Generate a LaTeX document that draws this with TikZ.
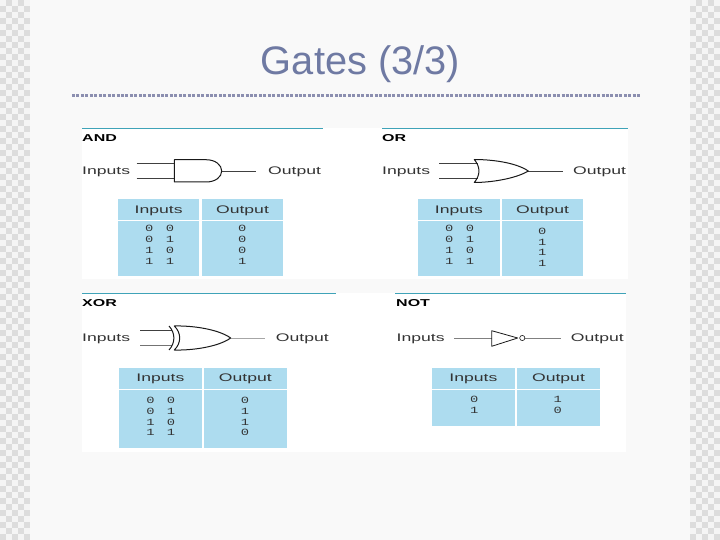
\documentclass[tikz,border=0pt]{standalone}
\usepackage{fontspec}
\setmainfont{Liberation Sans}
\newfontfamily\widefont[FakeStretch=1.6]{Liberation Sans}
\newfontfamily\digitfont[FakeStretch=1.45]{Liberation Mono}
\definecolor{pagebg}{HTML}{F9F9F9}
\definecolor{chkgray}{HTML}{DDDDDD}
\definecolor{chklight}{HTML}{F5F5F5}
\definecolor{titlecol}{HTML}{6F7AA3}
\definecolor{dotcol}{HTML}{8C8FB0}
\definecolor{tealcol}{HTML}{3FA3B8}
\definecolor{cellblue}{HTML}{ADDCEF}
\definecolor{textcol}{HTML}{333333}
\tikzset{
  x=1pt,y=-1pt,
  lbl/.style={inner sep=0pt,yshift=-1pt,font=\widefont\fontsize{11}{13}\selectfont,text=textcol},
  head/.style={inner sep=0pt,anchor=west,font=\widefont\fontsize{10}{12}\selectfont\bfseries,text=black},
  digits/.style={inner sep=0pt,align=center,text=textcol,font=\digitfont\fontsize{9.5}{10.85}\selectfont},
  wire/.style={draw=black!75,line width=0.8pt},
  gate/.style={draw=black!90,line width=1pt,line join=round},
  rule/.style={draw=tealcol,line width=1.2pt},
  cell/.style={fill=cellblue,draw=none},
}
\newcommand{\dgap}{\hspace{12.4pt}}
\newcommand{\tbl}[9]{% x0 x1 x2 x3 y0 y1 y2 y3 name
  \fill[cell] (#1,#5) rectangle (#2,#6);
  \fill[cell] (#3,#5) rectangle (#4,#6);
  \fill[cell] (#1,#7) rectangle (#2,#8);
  \fill[cell] (#3,#7) rectangle (#4,#8);
  \node[lbl] (#9i) at ({(#1+#2)/2},{(#5+#6)/2}) {Inputs};
  \node[lbl] (#9o) at ({(#3+#4)/2},{(#5+#6)/2}) {Output};
}
\begin{document}
\begin{tikzpicture}
\useasboundingbox (0,0) rectangle (720,540);
\fill[pagebg] (0,0) rectangle (720,540);
% checker strips
\fill[chklight] (0,0) rectangle (30,540);
\fill[chklight] (690,0) rectangle (720,540);
\foreach \r in {0,...,89}{
  \foreach \c in {0,...,4}{
    \pgfmathtruncatemacro{\odd}{mod(\r+\c,2)}
    \ifnum\odd=1
      \fill[chkgray] (6*\c,6*\r) rectangle +(6,6);
      \fill[chkgray] (690+6*\c,6*\r) rectangle +(6,6);
    \fi
  }
}
% title
\node[inner sep=0pt,text=titlecol,font=\fontsize{39.8}{44}\selectfont] (title) at (360.5,64.5) {Gates (3/3)};
\coordinate (dl) at (72,95.5);
\coordinate (dr) at (640,95.5);
\draw[dotcol,line width=3pt,dash pattern=on 3pt off 1.45pt] (dl) -- (dr);
% white panels
\fill[white] (82,128) rectangle (628,278.5);
\fill[white] (82,293) rectangle (626,451.5);
% teal rules
\coordinate (r1a) at (82,128.6); \coordinate (r1b) at (323,128.6);
\coordinate (r2a) at (382,128.6); \coordinate (r2b) at (628,128.6);
\coordinate (r3a) at (82,293.6); \coordinate (r3b) at (336,293.6);
\coordinate (r4a) at (395,293.6); \coordinate (r4b) at (626,293.6);
\draw[rule] (r1a) -- (r1b);
\draw[rule] (r2a) -- (r2b);
\draw[rule] (r3a) -- (r3b);
\draw[rule] (r4a) -- (r4b);
% headings
\node[head] (andh) at (82,138) {AND};
\node[head] (orh) at (382,138) {OR};
\node[head] (xorh) at (82,303) {XOR};
\node[head] (noth) at (396,303) {NOT};

% AND gate
\node[lbl,anchor=west] (andin) at (82,171) {Inputs};
\node[lbl,anchor=west] (andout) at (268,171) {Output};
\coordinate (a1) at (136.7,163); \coordinate (a1e) at (174.3,163);
\coordinate (a2) at (136.7,178.3); \coordinate (a2e) at (174.3,178.3);
\coordinate (aT) at (221.7,171); \coordinate (aO) at (256,171);
\draw[wire] (a1) -- (a1e);
\draw[wire] (a2) -- (a2e);
\draw[wire] (aT) -- (aO);
\draw[gate] (174.3,159.7) -- (206,159.7) .. controls (215.5,159.7) and (221.7,165) .. (aT) .. controls (221.7,177) and (215.5,182) .. (206,182) -- (174.3,182) -- cycle;
\tbl{118}{199.3}{201.7}{283.3}{199}{220}{221}{275.7}{and}
\node[digits] (andd1) at (159.7,245) {0\dgap 0\\0\dgap 1\\1\dgap 0\\1\dgap 1};
\node[digits] (andd2) at (242.3,245) {0\\0\\0\\1};

% OR gate
\node[lbl,anchor=west] (orin) at (382,171) {Inputs};
\node[lbl,anchor=west] (orout) at (573,171) {Output};
\coordinate (o1) at (439,163); \coordinate (o1e) at (477.5,163);
\coordinate (o2) at (439,178.3); \coordinate (o2e) at (477.5,178.3);
\coordinate (oT) at (528.3,171); \coordinate (oO) at (562.7,171);
\draw[wire] (o1) -- (o1e);
\draw[wire] (o2) -- (o2e);
\draw[wire] (oT) -- (oO);
\draw[gate] (474.3,159.5) .. controls (490,159.5) and (515,162) .. (oT) .. controls (515,179) and (490,182.5) .. (474.3,182.5) .. controls (480.5,175) and (480.5,167) .. cycle;
\tbl{418}{499.7}{502}{583.3}{199}{220}{221}{275.7}{or}
\node[digits] (ord1) at (459.7,245) {0\dgap 0\\0\dgap 1\\1\dgap 0\\1\dgap 1};
\node[digits] (ord2) at (542.3,247.3) {0\\1\\1\\1};

% XOR gate
\node[lbl,anchor=west] (xorin) at (82,338) {Inputs};
\node[lbl,anchor=west] (xorout) at (275.7,338) {Output};
\coordinate (x1) at (140,330); \coordinate (x1e) at (172,330);
\coordinate (x2) at (140,345.7); \coordinate (x2e) at (172,345.7);
\coordinate (xT) at (230.7,338); \coordinate (xO) at (265,338);
\draw[wire,line width=1pt] (x1) -- (x1e);
\draw[wire,line width=1.4pt,draw=black!55] (x2) -- (x2e);
\draw[wire,draw=black!35] (xT) -- (xO);
\draw[gate] (174.3,326) .. controls (192,325.5) and (218,329) .. (xT) .. controls (218,347) and (192,350.5) .. (174.3,350) .. controls (181.5,343) and (181.5,333) .. cycle;
\draw[gate] (169,326) .. controls (175.5,333) and (175.5,343) .. (169,350);
\tbl{118.7}{202}{204}{286.7}{367.7}{388.7}{390}{448}{xor}
\node[digits] (xord1) at (160.8,416.5) {0\dgap 0\\0\dgap 1\\1\dgap 0\\1\dgap 1};
\node[digits] (xord2) at (245,416.5) {0\\1\\1\\0};

% NOT gate
\node[lbl,anchor=west] (notin) at (396.5,338) {Inputs};
\node[lbl,anchor=west] (notout) at (570.7,338) {Output};
\coordinate (n1) at (454,338); \coordinate (n1e) at (491.7,338);
\coordinate (nT) at (517.7,338); \coordinate (nb) at (522.3,338);
\coordinate (nbe) at (525,338); \coordinate (nO) at (561,338);
\draw[wire,draw=black!50] (n1) -- (n1e);
\draw[wire,draw=black!50] (nbe) -- (nO);
\draw[gate,line width=0.8pt] (491.7,330.7) -- (nT) -- (491.7,346.3) -- cycle;
\draw[gate,line width=0.6pt] (nb) circle (2.6);
\tbl{431.7}{515}{517}{600}{367.7}{388.7}{390}{425.7}{not}
\node[digits] (notd1) at (474.3,405) {0\\1};
\node[digits] (notd2) at (557.7,405) {1\\0};
\end{tikzpicture}
\end{document}
